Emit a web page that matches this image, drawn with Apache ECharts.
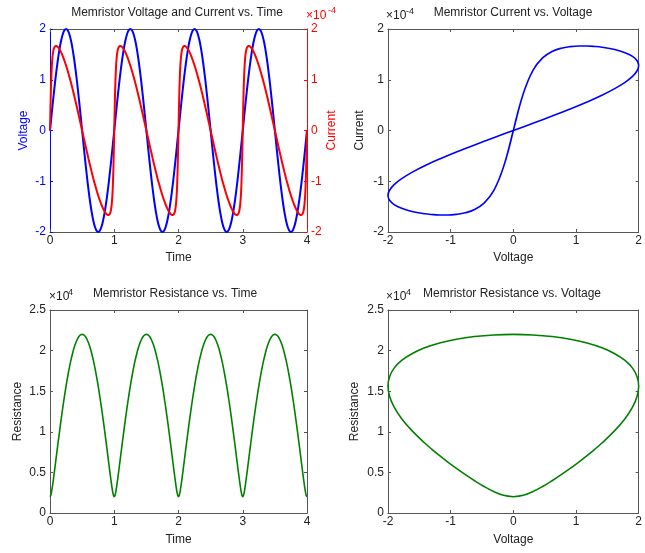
<!DOCTYPE html>
<html><head><meta charset="utf-8">
<script src="https://cdn.jsdelivr.net/npm/echarts@6/dist/echarts.min.js"></script>
<style>html,body{margin:0;padding:0;background:#fff}#c{width:645px;height:553px}</style>
</head><body><div id="c"></div><script>
// Time (s), 4 periods (denser sampling near the steep parts)
const time = [
0,0.0125,0.025,0.0375,0.05,0.0625,0.075,0.0875,0.1,0.1125,0.125,0.15,0.175,0.2,0.225,0.25,0.275,0.3,0.325,0.35,0.375,0.4,0.425,0.45,0.475,0.5,0.525,0.55,0.575,0.6,0.625,0.65,0.675,0.7,0.725,0.75,0.775,0.8,0.825,0.85,0.875,0.8875,0.9,0.9125,0.925,0.9375,0.95,0.9625,0.975,0.9875,
1,1.0125,1.025,1.0375,1.05,1.0625,1.075,1.0875,1.1,1.1125,1.125,1.15,1.175,1.2,1.225,1.25,1.275,1.3,1.325,1.35,1.375,1.4,1.425,1.45,1.475,1.5,1.525,1.55,1.575,1.6,1.625,1.65,1.675,1.7,1.725,1.75,1.775,1.8,1.825,1.85,1.875,1.8875,1.9,1.9125,1.925,1.9375,1.95,1.9625,1.975,1.9875,
2,2.0125,2.025,2.0375,2.05,2.0625,2.075,2.0875,2.1,2.1125,2.125,2.15,2.175,2.2,2.225,2.25,2.275,2.3,2.325,2.35,2.375,2.4,2.425,2.45,2.475,2.5,2.525,2.55,2.575,2.6,2.625,2.65,2.675,2.7,2.725,2.75,2.775,2.8,2.825,2.85,2.875,2.8875,2.9,2.9125,2.925,2.9375,2.95,2.9625,2.975,2.9875,
3,3.0125,3.025,3.0375,3.05,3.0625,3.075,3.0875,3.1,3.1125,3.125,3.15,3.175,3.2,3.225,3.25,3.275,3.3,3.325,3.35,3.375,3.4,3.425,3.45,3.475,3.5,3.525,3.55,3.575,3.6,3.625,3.65,3.675,3.7,3.725,3.75,3.775,3.8,3.825,3.85,3.875,3.8875,3.9,3.9125,3.925,3.9375,3.95,3.9625,3.975,3.9875,
4];
// Voltage (V)
const voltage = [
0,0.157,0.313,0.467,0.618,0.765,0.908,1.045,1.176,1.299,1.414,1.618,1.782,1.902,1.975,2,1.975,1.902,1.782,1.618,1.414,1.176,0.908,0.618,0.313,0,-0.313,-0.618,-0.908,-1.176,-1.414,-1.618,-1.782,-1.902,-1.975,-2,-1.975,-1.902,-1.782,-1.618,-1.414,-1.299,-1.176,-1.045,-0.908,-0.765,-0.618,-0.467,-0.313,-0.157,
0,0.157,0.313,0.467,0.618,0.765,0.908,1.045,1.176,1.299,1.414,1.618,1.782,1.902,1.975,2,1.975,1.902,1.782,1.618,1.414,1.176,0.908,0.618,0.313,0,-0.313,-0.618,-0.908,-1.176,-1.414,-1.618,-1.782,-1.902,-1.975,-2,-1.975,-1.902,-1.782,-1.618,-1.414,-1.299,-1.176,-1.045,-0.908,-0.765,-0.618,-0.467,-0.313,-0.157,
0,0.157,0.313,0.467,0.618,0.765,0.908,1.045,1.176,1.299,1.414,1.618,1.782,1.902,1.975,2,1.975,1.902,1.782,1.618,1.414,1.176,0.908,0.618,0.313,0,-0.313,-0.618,-0.908,-1.176,-1.414,-1.618,-1.782,-1.902,-1.975,-2,-1.975,-1.902,-1.782,-1.618,-1.414,-1.299,-1.176,-1.045,-0.908,-0.765,-0.618,-0.467,-0.313,-0.157,
0,0.157,0.313,0.467,0.618,0.765,0.908,1.045,1.176,1.299,1.414,1.618,1.782,1.902,1.975,2,1.975,1.902,1.782,1.618,1.414,1.176,0.908,0.618,0.313,0,-0.313,-0.618,-0.908,-1.176,-1.414,-1.618,-1.782,-1.902,-1.975,-2,-1.975,-1.902,-1.782,-1.618,-1.414,-1.299,-1.176,-1.045,-0.908,-0.765,-0.618,-0.467,-0.313,-0.157,
0];
// Current (x 1e-4 A)
const current = [
0,0.721,1.187,1.432,1.558,1.622,1.653,1.666,1.665,1.656,1.641,1.595,1.533,1.460,1.375,1.280,1.177,1.066,0.949,0.825,0.695,0.562,0.424,0.284,0.143,0,-0.143,-0.284,-0.424,-0.562,-0.695,-0.825,-0.949,-1.066,-1.177,-1.280,-1.375,-1.460,-1.533,-1.595,-1.641,-1.656,-1.665,-1.666,-1.653,-1.622,-1.558,-1.432,-1.187,-0.721,
0,0.721,1.187,1.432,1.558,1.622,1.653,1.666,1.665,1.656,1.641,1.595,1.533,1.460,1.375,1.280,1.177,1.066,0.949,0.825,0.695,0.562,0.424,0.284,0.143,0,-0.143,-0.284,-0.424,-0.562,-0.695,-0.825,-0.949,-1.066,-1.177,-1.280,-1.375,-1.460,-1.533,-1.595,-1.641,-1.656,-1.665,-1.666,-1.653,-1.622,-1.558,-1.432,-1.187,-0.721,
0,0.721,1.187,1.432,1.558,1.622,1.653,1.666,1.665,1.656,1.641,1.595,1.533,1.460,1.375,1.280,1.177,1.066,0.949,0.825,0.695,0.562,0.424,0.284,0.143,0,-0.143,-0.284,-0.424,-0.562,-0.695,-0.825,-0.949,-1.066,-1.177,-1.280,-1.375,-1.460,-1.533,-1.595,-1.641,-1.656,-1.665,-1.666,-1.653,-1.622,-1.558,-1.432,-1.187,-0.721,
0,0.721,1.187,1.432,1.558,1.622,1.653,1.666,1.665,1.656,1.641,1.595,1.533,1.460,1.375,1.280,1.177,1.066,0.949,0.825,0.695,0.562,0.424,0.284,0.143,0,-0.143,-0.284,-0.424,-0.562,-0.695,-0.825,-0.949,-1.066,-1.177,-1.280,-1.375,-1.460,-1.533,-1.595,-1.641,-1.656,-1.665,-1.666,-1.653,-1.622,-1.558,-1.432,-1.187,-0.721,
0];
// Resistance (x 1e4 Ohm)
const resistance = [
0.2,0.218,0.264,0.326,0.397,0.472,0.549,0.627,0.706,0.784,0.862,1.015,1.162,1.303,1.437,1.562,1.678,1.784,1.879,1.962,2.034,2.093,2.140,2.173,2.193,2.2,2.193,2.173,2.140,2.093,2.034,1.962,1.879,1.784,1.678,1.562,1.437,1.303,1.162,1.015,0.862,0.784,0.706,0.627,0.549,0.472,0.397,0.326,0.264,0.218,
0.2,0.218,0.264,0.326,0.397,0.472,0.549,0.627,0.706,0.784,0.862,1.015,1.162,1.303,1.437,1.562,1.678,1.784,1.879,1.962,2.034,2.093,2.140,2.173,2.193,2.2,2.193,2.173,2.140,2.093,2.034,1.962,1.879,1.784,1.678,1.562,1.437,1.303,1.162,1.015,0.862,0.784,0.706,0.627,0.549,0.472,0.397,0.326,0.264,0.218,
0.2,0.218,0.264,0.326,0.397,0.472,0.549,0.627,0.706,0.784,0.862,1.015,1.162,1.303,1.437,1.562,1.678,1.784,1.879,1.962,2.034,2.093,2.140,2.173,2.193,2.2,2.193,2.173,2.140,2.093,2.034,1.962,1.879,1.784,1.678,1.562,1.437,1.303,1.162,1.015,0.862,0.784,0.706,0.627,0.549,0.472,0.397,0.326,0.264,0.218,
0.2,0.218,0.264,0.326,0.397,0.472,0.549,0.627,0.706,0.784,0.862,1.015,1.162,1.303,1.437,1.562,1.678,1.784,1.879,1.962,2.034,2.093,2.140,2.173,2.193,2.2,2.193,2.173,2.140,2.093,2.034,1.962,1.879,1.784,1.678,1.562,1.437,1.303,1.162,1.015,0.862,0.784,0.706,0.627,0.549,0.472,0.397,0.326,0.264,0.218,
0.2];

const titles = ['Memristor Voltage and Current vs. Time','Memristor Current vs. Voltage','Memristor Resistance vs. Time','Memristor Resistance vs. Voltage'];

const FONT = '"Liberation Sans", Arial, sans-serif';
const GRAY = '#555';
const TXT = '#222';
const BLUE = '#0000ff', RED = '#ff0000', GREEN = '#008000';

function axis(gridIndex, pos, min, max, interval, o) {
  o = o || {};
  const color = o.color || GRAY;
  return {
    type: 'value', gridIndex, position: pos, min, max, interval,
    axisLine: {show: true, onZero: false, lineStyle: {color, width: 1}},
    axisTick: {show: true, inside: true, length: 3, lineStyle: {color}},
    splitLine: {show: false},
    axisLabel: {show: !!o.labels, showMinLabel: true, showMaxLabel: true, color: o.labelColor || TXT, fontSize: 12, fontFamily: FONT, margin: o.margin == null ? 3 : o.margin},
    name: o.name || '', nameLocation: 'middle', nameGap: o.nameGap || 20,
    nameTextStyle: {color: o.labelColor || TXT, fontSize: 12, fontFamily: FONT}
  };
}

const xAxis = [
  axis(0, 'bottom', 0, 4, 1, {labels: true, name: 'Time', nameGap: 20, margin: 3}),
  axis(0, 'top', 0, 4, 1),
  axis(1, 'bottom', -2, 2, 1, {labels: true, name: 'Voltage', nameGap: 20, margin: 3}),
  axis(1, 'top', -2, 2, 1),
  axis(2, 'bottom', 0, 4, 1, {labels: true, name: 'Time', nameGap: 21, margin: 3}),
  axis(2, 'top', 0, 4, 1),
  axis(3, 'bottom', -2, 2, 1, {labels: true, name: 'Voltage', nameGap: 21, margin: 3}),
  axis(3, 'top', -2, 2, 1)
];
const yAxis = [
  axis(0, 'left', -2, 2, 1, {labels: true, name: 'Voltage', nameGap: 20, color: BLUE, labelColor: BLUE, margin: 4}),
  axis(0, 'right', -2, 2, 1, {labels: true, name: 'Current', nameGap: 16, color: RED, labelColor: RED, margin: 4}),
  axis(1, 'left', -2, 2, 1, {labels: true, name: 'Current', nameGap: 22, margin: 4}),
  axis(1, 'right', -2, 2, 1),
  axis(2, 'left', 0, 2.5, 0.5, {labels: true, name: 'Resistance', nameGap: 26, margin: 4}),
  axis(2, 'right', 0, 2.5, 0.5),
  axis(3, 'left', 0, 2.5, 0.5, {labels: true, name: 'Resistance', nameGap: 27, margin: 4}),
  axis(3, 'right', 0, 2.5, 0.5)
];

function line(xi, yi, data, color, width) {
  return {type: 'line', xAxisIndex: xi, yAxisIndex: yi, data, showSymbol: false, symbol: 'none',
    smooth: 0.4, clip: false, lineStyle: {color, width}, itemStyle: {color}, silent: true};
}

const vt = time.map((t, i) => [t, voltage[i]]);
const it = time.map((t, i) => [t, current[i]]);
const iv = voltage.map((v, i) => [v, current[i]]);
const rt = time.map((t, i) => [t, resistance[i]]);
const rv = voltage.map((v, i) => [v, resistance[i]]);

function expo(x, y, base, sup, color, supDx, supDy) {
  return [
    {type: 'text', left: x, top: y, style: {text: base, fill: color, font: '12px ' + FONT}},
    {type: 'text', left: x + supDx, top: y + supDy, style: {text: sup, fill: color, font: '9px ' + FONT}}
  ];
}

const chart = echarts.init(document.getElementById('c'), null, {renderer: 'canvas'});
chart.setOption({
  animation: false,
  backgroundColor: '#fff',
  grid: [
    {left: 50, top: 29, width: 257, height: 203},
    {left: 388, top: 29, width: 255, height: 203},
    {left: 50, top: 310, width: 257, height: 203},
    {left: 388, top: 310, width: 255, height: 203}
  ],
  title: [
    {text: titles[0], left: 177, top: 7, textAlign: 'center'},
    {text: titles[1], left: 513, top: 7, textAlign: 'center'},
    {text: titles[2], left: 175, top: 288, textAlign: 'center'},
    {text: titles[3], left: 512, top: 288, textAlign: 'center'}
  ].map(t => Object.assign(t, {padding: 0, textStyle: {fontSize: 12, fontWeight: 'normal', color: TXT, fontFamily: FONT}})),
  xAxis, yAxis,
  graphic: [].concat(
    expo(306, 10, '\u00d710', '-4', RED, 22, -4),
    expo(386, 10, '\u00d710', '-4', TXT, 20, -3),
    expo(49, 291, '\u00d710', '4', TXT, 19, -3),
    expo(386, 291, '\u00d710', '4', TXT, 20, -3)
  ),
  series: [
    line(0, 0, vt, BLUE, 2),
    line(0, 1, it, RED, 2),
    line(2, 2, iv, BLUE, 1.6),
    line(4, 4, rt, GREEN, 1.6),
    line(6, 6, rv, GREEN, 1.6)
  ]
});
</script></body></html>
